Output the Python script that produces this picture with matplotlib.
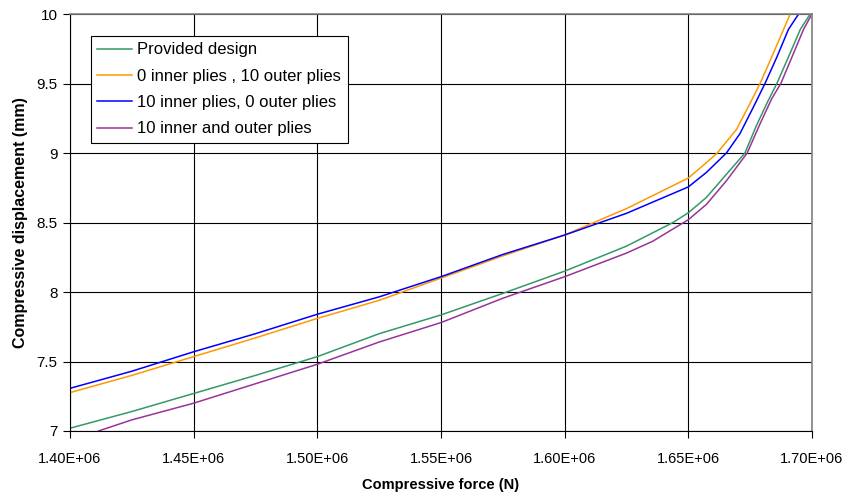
import matplotlib
matplotlib.use("Agg")
import matplotlib.pyplot as plt
from matplotlib.ticker import FuncFormatter, MultipleLocator

plt.rcParams["font.family"] = ["Liberation Sans", "DejaVu Sans"]

# compressive force (N) vs compressive displacement (mm)
provided_f = [1.400e6, 1.425e6, 1.450e6, 1.475e6, 1.500e6, 1.525e6, 1.550e6, 1.575e6,
              1.600e6, 1.625e6, 1.6438e6, 1.650e6, 1.6573e6, 1.6641e6, 1.6729e6, 1.6776e6,
              1.6821e6, 1.6858e6, 1.6912e6, 1.6953e6, 1.6993e6]
provided_d = [7.02, 7.14, 7.27, 7.40, 7.535, 7.70, 7.835, 7.99,
              8.15, 8.33, 8.50, 8.57, 8.68, 8.82, 9.0, 9.2,
              9.37, 9.5, 9.72, 9.89, 10.0]

outer10_f = [1.400e6, 1.425e6, 1.450e6, 1.475e6, 1.500e6, 1.525e6, 1.550e6, 1.575e6,
             1.600e6, 1.625e6, 1.650e6, 1.6573e6, 1.6617e6, 1.6695e6, 1.6749e6,
             1.679e6, 1.6837e6, 1.6878e6, 1.6912e6]
outer10_d = [7.276, 7.40, 7.535, 7.67, 7.81, 7.94, 8.10, 8.26,
             8.41, 8.60, 8.82, 8.93, 9.0, 9.17, 9.355,
             9.5, 9.69, 9.86, 10.0]

inner10_f = [1.400e6, 1.425e6, 1.450e6, 1.475e6, 1.500e6, 1.525e6, 1.550e6, 1.575e6,
             1.600e6, 1.625e6, 1.650e6, 1.6573e6, 1.6654e6, 1.6709e6, 1.6763e6,
             1.681e6, 1.6858e6, 1.6905e6, 1.6946e6]
inner10_d = [7.307, 7.43, 7.57, 7.70, 7.84, 7.965, 8.11, 8.27,
             8.41, 8.566, 8.756, 8.86, 9.0, 9.14, 9.33,
             9.5, 9.69, 9.89, 10.0]

both10_f = [1.4115e6, 1.425e6, 1.450e6, 1.475e6, 1.500e6, 1.525e6, 1.550e6, 1.575e6,
            1.600e6, 1.625e6, 1.6356e6, 1.650e6, 1.6573e6, 1.6654e6, 1.6738e6, 1.679e6,
            1.6837e6, 1.6874e6, 1.6926e6, 1.6966e6, 1.700e6]
both10_d = [7.0, 7.08, 7.20, 7.34, 7.48, 7.64, 7.78, 7.955,
            8.11, 8.28, 8.365, 8.52, 8.63, 8.80, 9.0, 9.21,
            9.39, 9.5, 9.72, 9.89, 10.0]

series = [
    ("Provided design", provided_f, provided_d, "#339966"),
    ("0 inner plies , 10 outer plies", outer10_f, outer10_d, "#FF9900"),
    ("10 inner plies, 0 outer plies", inner10_f, inner10_d, "#0000FF"),
    ("10 inner and outer plies", both10_f, both10_d, "#993399"),
]

fig = plt.figure(figsize=(8.49, 4.97), dpi=100)
ax = fig.add_axes([0.0824, 0.1328, 0.874, 0.839])

for label, f, d, col in series:
    ax.plot(f, d, color=col, lw=1.1, label=label)

ax.set_xlim(1.40e6, 1.70e6)
ax.set_ylim(7, 10)
ax.xaxis.set_major_locator(MultipleLocator(0.05e6))
ax.yaxis.set_major_locator(MultipleLocator(0.5))
ax.xaxis.set_major_formatter(FuncFormatter(lambda v, p: f"{v:.2E}"))
ax.yaxis.set_major_formatter(FuncFormatter(lambda v, p: f"{v:g}"))
ax.grid(True, color="#000000", lw=0.8)
ax.set_axisbelow(True)
ax.tick_params(direction="out", length=5, width=0.8, color="#000000", pad=6)
ax.tick_params(axis="x", labelsize=10.5, pad=10)
ax.tick_params(axis="y", labelsize=11, pad=4)
for s in ("top", "right"):
    ax.spines[s].set_color("#808080")
    ax.spines[s].set_linewidth(1.2)
for s in ("left", "bottom"):
    ax.spines[s].set_color("#000000")
    ax.spines[s].set_linewidth(0.8)

ax.set_xlabel("Compressive force (N)", fontsize=10.5, fontweight="bold", labelpad=9)
ax.set_ylabel("Compressive displacement (mm)", fontsize=11.5, fontweight="bold", labelpad=6)

leg = ax.legend(loc="upper left", bbox_to_anchor=(0.028, 0.948), borderaxespad=0,
                fontsize=12, frameon=True, fancybox=False, edgecolor="#000000",
                framealpha=1, handlelength=2.1, handletextpad=0.3, borderpad=0.4,
                labelspacing=0.68)
leg.get_frame().set_linewidth(0.8)

fig.savefig("out.png", dpi=100)
